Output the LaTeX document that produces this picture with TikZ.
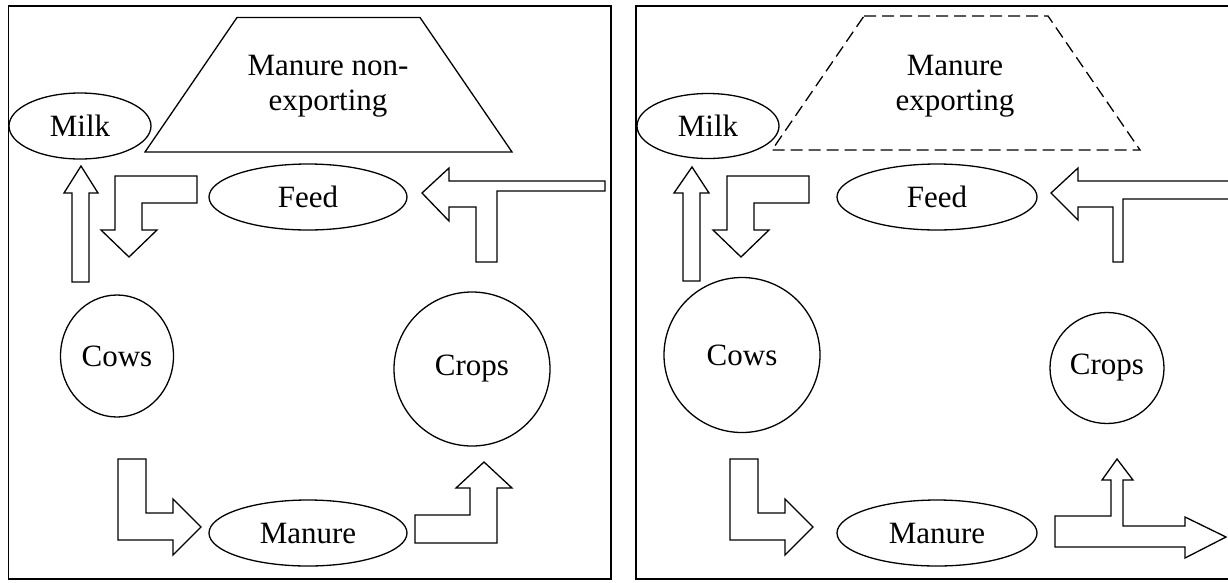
\documentclass[tikz,border=0pt]{standalone}
\usepackage{fontspec}
\setmainfont{Liberation Serif}
\usetikzlibrary{shapes.geometric}

\tikzset{
  blob/.style={draw,ellipse,inner sep=0pt,line width=1.3pt},
  blockarrow/.style={draw,line width=1.3pt,line join=miter},
  panel/.style={draw,line width=1.4pt}
}

\begin{document}
\begin{tikzpicture}[x=1pt,y=-1pt,font=\fontsize{31}{35}\selectfont]
  \useasboundingbox (0,0) rectangle (1228,582);

  \draw[panel] (8.5,6) rectangle (611,579);
  \draw[panel] (636,6) rectangle (1240,579);

  \node[blob,minimum width=142,minimum height=66] (milkL) at (80,126) {Milk};
  \node[blob,minimum width=198,minimum height=66] (feedL) at (308,197) {Feed};
  \node[blob,minimum width=113,minimum height=122] (cowsL) at (117,356) {Cows};
  \node[blob,minimum width=156,minimum height=154] (cropsL) at (472,369) {Crops};
  \node[blob,minimum width=198,minimum height=66] (manureL) at (308,533) {Manure};
  \draw[blockarrow] (237,17.5) -- (420,17.5) -- (512,152) -- (145,152) -- cycle;
  \node[align=center,inner sep=0pt] (storeL) at (328,86) {Manure non-\\exporting};

  \draw[blockarrow] (72,282) -- (72,193) -- (64,193) -- (81,166) -- (98,193)
    -- (89,193) -- (89,282) -- cycle;
  \draw[blockarrow] (197,176) -- (115,176) -- (115,230) -- (101,230) -- (129,257)
    -- (157,230) -- (142,230) -- (142,203) -- (197,203) -- cycle;
  \draw[blockarrow] (422,193) -- (449,168) -- (449,181) -- (605,181) -- (605,191)
    -- (497,191) -- (497,262) -- (476,262) -- (476,207) -- (449,207) -- (449,221) -- cycle;
  \draw[blockarrow] (118,459) -- (146,459) -- (146,513) -- (173,513) -- (173,499)
    -- (201,527) -- (173,555) -- (173,540) -- (118,540) -- cycle;
  \draw[blockarrow] (415,543) -- (415,515) -- (470,515) -- (470,488) -- (456,488)
    -- (484,462) -- (512,488) -- (497,488) -- (497,543) -- cycle;

  \node[blob,minimum width=142,minimum height=65] (milkR) at (708,126) {Milk};
  \node[blob,minimum width=200,minimum height=66] (feedR) at (937,197) {Feed};
  \node[blob,minimum width=156,minimum height=155] (cowsR) at (742,355) {Cows};
  \node[blob,minimum width=114,minimum height=111] (cropsR) at (1107,368) {Crops};
  \node[blob,minimum width=200,minimum height=66] (manureR) at (937,533) {Manure};
  \draw[blockarrow,dash pattern=on 12pt off 6pt] (864,16) -- (1048,16) -- (1140,150)
    -- (772,150) -- cycle;
  \node[align=center,inner sep=0pt] (storeR) at (955,86) {Manure\\exporting};

  \draw[blockarrow] (683,281) -- (683,193) -- (674,193) -- (692,167) -- (709,193)
    -- (700,193) -- (700,281) -- cycle;
  \draw[blockarrow] (809,176) -- (727,176) -- (727,230) -- (713,230) -- (741,257)
    -- (769,230) -- (754,230) -- (754,203) -- (809,203) -- cycle;
  \draw[blockarrow] (1051,193) -- (1078,168) -- (1078,181) -- (1240,181) -- (1240,199)
    -- (1123,199) -- (1123,262) -- (1113,262) -- (1113,207) -- (1078,207) -- (1078,220) -- cycle;
  \draw[blockarrow] (730,459) -- (758,459) -- (758,513) -- (785,513) -- (785,499)
    -- (813,527) -- (785,555) -- (785,540) -- (730,540) -- cycle;
  \draw[blockarrow] (1055,547) -- (1055,516) -- (1111,516) -- (1111,480) -- (1102,480)
    -- (1117,459) -- (1133,480) -- (1123,480) -- (1123,526) -- (1185,526) -- (1185,517)
    -- (1226,537) -- (1185,558) -- (1185,547) -- cycle;
\end{tikzpicture}
\end{document}
